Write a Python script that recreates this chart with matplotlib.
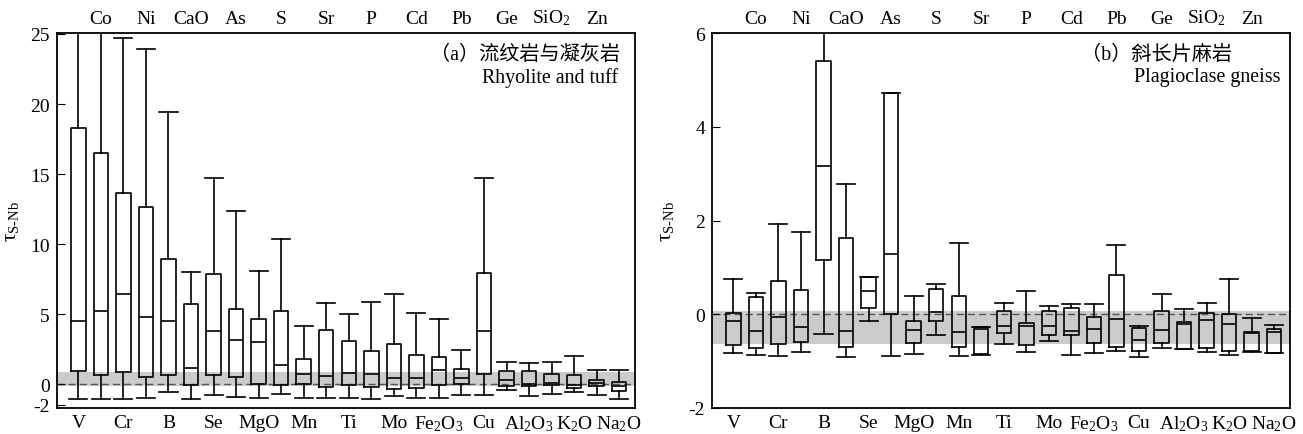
import numpy as np
import matplotlib
matplotlib.use("Agg")
import matplotlib.pyplot as plt

plt.rcParams['font.family'] = ['Liberation Serif', 'Noto Sans CJK SC']
plt.rcParams['mathtext.fontset'] = 'custom'
plt.rcParams['mathtext.rm'] = 'Liberation Serif'
plt.rcParams['mathtext.it'] = 'Liberation Serif:italic'
plt.rcParams['axes.unicode_minus'] = False

# boxes left -> right; odd ones labelled at bottom, even ones on top
elements = ["V", "Co", "Cr", "Ni", "B", "CaO", "Se", "As", "MgO", "S", "Mn", "Sr",
            "Ti", "P", "Mo", "Cd", "Fe$_2$O$_3$", "Pb", "Cu", "Ge", "Al$_2$O$_3$",
            "SiO$_2$", "K$_2$O", "Zn", "Na$_2$O"]

# (a) rhyolite and tuff
whishi_a = [30, 30, 24.7, 23.9, 19.4, 8.0, 14.7, 12.4, 8.1, 10.4, 4.2, 5.8, 5.0,
            5.9, 6.45, 5.1, 4.7, 2.45, 14.7, 1.6, 1.5, 1.6, 2.05, 1.0, 1.0]
q3_a = [18.3, 16.5, 13.65, 12.65, 8.97, 5.76, 7.9, 5.4, 4.64, 5.21, 1.81, 3.9, 3.07,
        2.35, 2.85, 2.12, 1.93, 1.12, 7.92, 0.93, 0.93, 0.74, 0.64, 0.29, 0.17]
med_a = [4.5, 5.26, 6.45, 4.8, 4.54, 1.14, 3.78, 3.16, 3.04, 1.4, 0.76, 0.57, 0.83,
         0.74, 0.48, 0.45, 1.02, 0.45, 3.78, 0.29, 0.05, 0.12, -0.03, 0.12, -0.16]
q1_a = [0.93, 0.64, 0.88, 0.55, 0.64, -0.1, 0.69, 0.52, 0.0, -0.1, 0.0, -0.26, -0.1,
        -0.26, -0.43, -0.36, -0.1, 0.0, 0.74, -0.16, -0.16, -0.1, -0.36, -0.16, -0.62]
whislo_a = [-1.41, -1.41, -1.41, -1.34, -0.75, -1.41, -1.08, -1.28, -1.31, -0.98,
            -1.34, -1.34, -1.31, -1.41, -1.15, -1.34, -1.31, -1.08, -1.02, -0.59,
            -1.15, -0.92, -0.75, -1.02, -1.41]

# (b) plagioclase gneiss
whishi_b = [0.76, 0.46, 1.92, 1.76, 6.5, 2.78, 0.8, 4.71, 0.39, 0.64, 1.53, -0.27,
            0.24, 0.49, 0.18, 0.21, 0.22, 1.48, -0.26, 0.43, 0.11, 0.25, 0.75, -0.09, -0.22]
q3_b = [0.02, 0.37, 0.71, 0.51, 5.41, 1.62, 0.8, 4.71, -0.14, 0.54, 0.39, -0.28,
        0.06, -0.18, 0.06, 0.14, -0.06, 0.84, -0.29, 0.06, -0.17, 0.03, 0.01, -0.37, -0.32]
med_b = [-0.14, -0.36, -0.05, -0.28, 3.16, -0.36, 0.49, 1.29, -0.34, 0.05, -0.37,
         -0.32, -0.26, -0.25, -0.25, -0.36, -0.32, -0.11, -0.55, -0.34, -0.21, -0.12,
         -0.21, -0.41, -0.38]
q1_b = [-0.65, -0.72, -0.64, -0.59, 1.16, -0.69, 0.14, 0.0, -0.61, -0.14, -0.69,
        -0.85, -0.39, -0.66, -0.44, -0.44, -0.62, -0.69, -0.79, -0.61, -0.75, -0.71,
        -0.78, -0.79, -0.82]
whislo_b = [-0.82, -0.86, -0.89, -0.81, -0.43, -0.91, -0.15, -0.89, -0.84, -0.45,
            -0.89, -0.86, -0.64, -0.8, -0.57, -0.86, -0.82, -0.79, -0.91, -0.72,
            -0.75, -0.81, -0.88, -0.80, -0.83]

K = 0.725  # negative part of the (a) axis is squeezed


def fwd(y):
    y = np.asarray(y, float)
    return np.where(y < 0, y * K, y)


def inv(y):
    y = np.asarray(y, float)
    return np.where(y < 0, y / K, y)


def panel(ax, lo, q1, med, q3, hi, band, title_cn, title_en, x_cn, x_en):
    pos = np.arange(1, len(elements) + 1)
    stats = [dict(whislo=a, q1=b, med=c, q3=d, whishi=e, fliers=[])
             for a, b, c, d, e in zip(lo, q1, med, q3, hi)]
    lp = dict(color="black", linewidth=1.2)
    ax.axhspan(band[0], band[1], color="#cbcbcb", lw=0, zorder=0)
    ax.axhline(0, color="#555555", ls=(0, (5, 3)), lw=1.0, zorder=1)
    ax.bxp(stats, positions=pos, widths=0.64, capwidths=0.8, showfliers=False,
           boxprops=lp, whiskerprops=lp, capprops=lp, medianprops=lp,
           manage_ticks=False, zorder=2)
    ax.set_xlim(0.05, 25.7)
    ax.set_xticks(pos[::2])
    ax.set_xticklabels(elements[::2], fontsize=14)
    ax.tick_params(axis="x", length=0, pad=4)
    top = ax.secondary_xaxis("top")
    top.set_xticks(pos[1::2])
    top.set_xticklabels(elements[1::2], fontsize=14)
    top.tick_params(axis="x", length=0, pad=4)
    top.spines["top"].set_visible(False)
    ax.tick_params(axis="y", direction="in", length=6, labelsize=14, pad=5)
    for s in ax.spines.values():
        s.set_linewidth(1.3)
    ax.set_ylabel(r"τ$_{\mathrm{S\text{-}Nb}}$", fontsize=15)
    ax.yaxis.set_label_coords(-0.062, 0.5)
    ax.text(x_cn, 0.944, title_cn, transform=ax.transAxes, ha="right", va="center",
            fontsize=14.5)
    ax.text(x_en, 0.883, title_en, transform=ax.transAxes, ha="right", va="center",
            fontsize=14.4)


fig = plt.figure(figsize=(13.03, 4.35), dpi=100)
ax1 = fig.add_axes([0.0437, 0.0598, 0.4436, 0.862])
ax2 = fig.add_axes([0.5464, 0.0598, 0.4436, 0.862])

ax1.set_yscale("function", functions=(fwd, inv))
panel(ax1, whislo_a, q1_a, med_a, q3_a, whishi_a, (-0.12, 0.9),
      "（a）流纹岩与凝灰岩", "Rhyolite and tuff", 0.974, 0.971)
ax1.set_ylim(-2.32, 25.07)
ax1.set_yticks([-2, 0, 5, 10, 15, 20, 25])
ax1.set_yticklabels(["-2", "0", "5", "10", "15", "20", "25"])
ax1.minorticks_off()

panel(ax2, whislo_b, q1_b, med_b, q3_b, whishi_b, (-0.64, 0.06),
      "（b）斜长片麻岩", "Plagioclase gneiss", 0.90, 0.983)
ax2.set_ylim(-2, 6)
ax2.set_yticks([-2, 0, 2, 4, 6])

fig.savefig("out.png", dpi=100)
